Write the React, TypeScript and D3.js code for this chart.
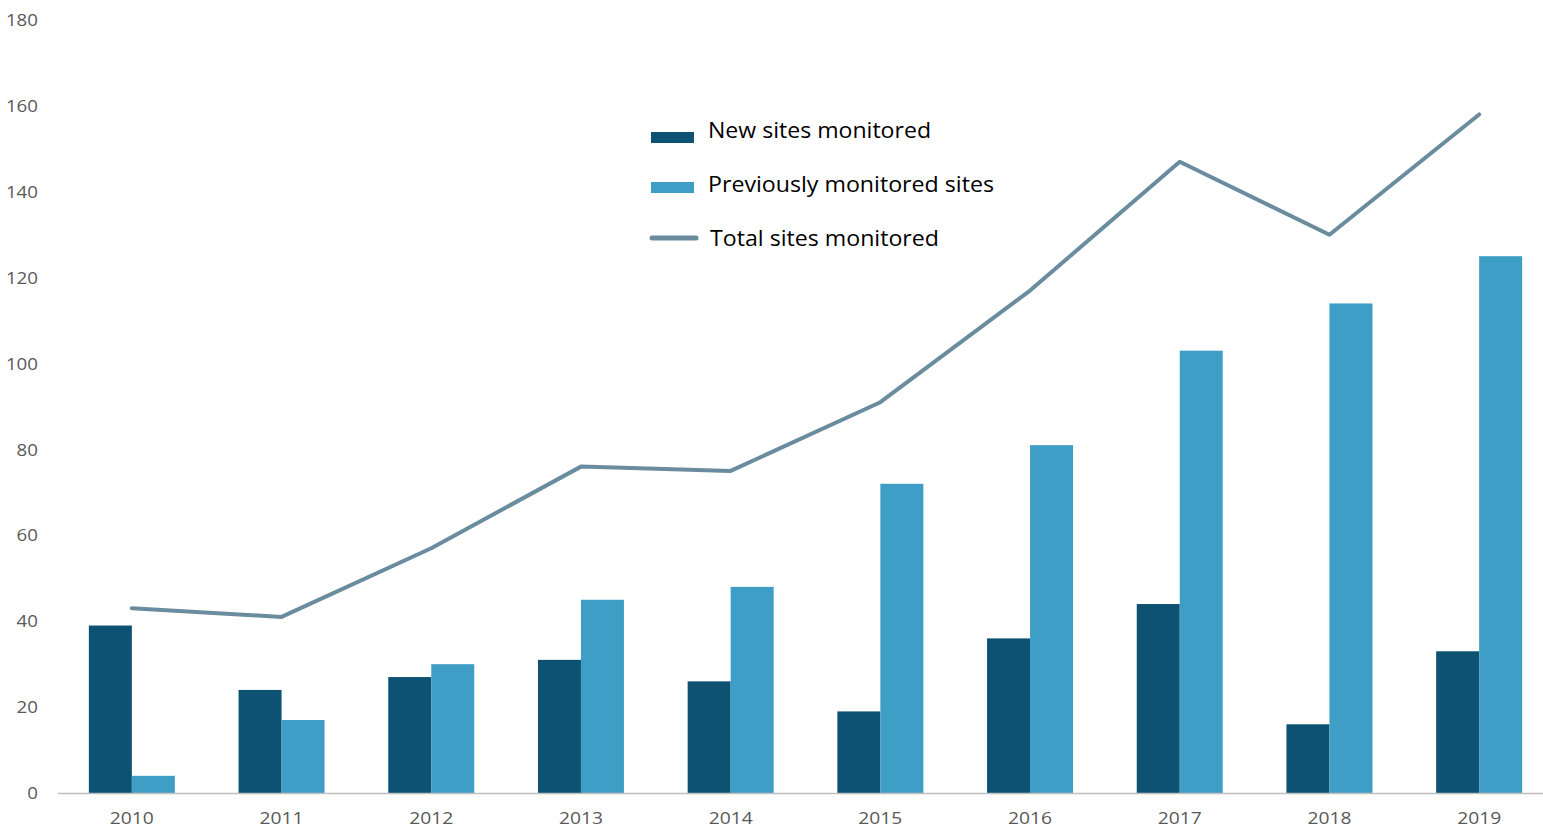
import React from "react";
import * as d3 from "d3";

const years = ["2010", "2011", "2012", "2013", "2014", "2015", "2016", "2017", "2018", "2019"];
const newSites = [39, 24, 27, 31, 26, 19, 36, 44, 16, 33];
const previousSites = [4, 17, 30, 45, 48, 72, 81, 103, 114, 125];
const totalSites = [43, 41, 57, 76, 75, 91, 117, 147, 130, 158];
const yTicks = [0, 20, 40, 60, 80, 100, 120, 140, 160, 180];
const legendLabels = ["New sites monitored", "Previously monitored sites", "Total sites monitored"];

const W = 1543;
const H = 829;
const FONT = "'Open Sans', Lato, sans-serif";
const DARK = "#0d5272";
const LIGHT = "#3e9ec6";
const LINE = "#6a8c9f";

export default function App() {
  const x = d3.scaleBand<string>().domain(years).range([57, 57 + 149.7 * 10]).padding(0);
  const y = d3.scaleLinear().domain([0, 180]).range([793, 20]);
  const barW = 43;
  const line = d3
    .line<number>()
    .x((_, i) => (x(years[i]) as number) + x.bandwidth() / 2)
    .y((d) => y(d));

  return (
    <svg width={W} height={H} style={{ position: "absolute", left: 0, top: 0, background: "#fff" }}>
      {yTicks.map((t) => (
        <text key={t} x={38} y={y(t)} dy="0.36em" textAnchor="end" fontFamily={FONT} fontSize={17} fill="#595959"
          textLength={String(t).length * 10.7} lengthAdjust="spacingAndGlyphs">
          {t}
        </text>
      ))}
      {years.map((yr, i) => {
        const cx = (x(yr) as number) + x.bandwidth() / 2;
        return (
          <g key={yr}>
            <rect x={cx - barW} y={y(newSites[i])} width={barW} height={y(0) - y(newSites[i])} fill={DARK} />
            <rect x={cx} y={y(previousSites[i])} width={barW} height={y(0) - y(previousSites[i])} fill={LIGHT} />
            <text x={cx} y={818.5} dy="0.36em" textAnchor="middle" fontFamily={FONT} fontSize={16} fill="#595959"
              textLength={44} lengthAdjust="spacingAndGlyphs">
              {yr}
            </text>
          </g>
        );
      })}
      <line x1={58} x2={W} y1={793.5} y2={793.5} stroke="#bfbfbf" strokeWidth={1.5} />
      <path d={line(totalSites) || ""} fill="none" stroke={LINE} strokeWidth={4} strokeLinejoin="round" strokeLinecap="round" />
      <g fontFamily={FONT} fontSize={21} fill="#000">
        <rect x={651} y={132} width={43} height={11} fill={DARK} />
        <text x={708} y={130} dy="0.36em" textLength={223} lengthAdjust="spacingAndGlyphs">{legendLabels[0]}</text>
        <rect x={651} y={182} width={43} height={11} fill={LIGHT} />
        <text x={708} y={184} dy="0.36em" textLength={286} lengthAdjust="spacingAndGlyphs">{legendLabels[1]}</text>
        <line x1={652} x2={696} y1={238} y2={238} stroke={LINE} strokeWidth={5} strokeLinecap="round" />
        <text x={710} y={238} dy="0.36em" textLength={229} lengthAdjust="spacingAndGlyphs">{legendLabels[2]}</text>
      </g>
    </svg>
  );
}
